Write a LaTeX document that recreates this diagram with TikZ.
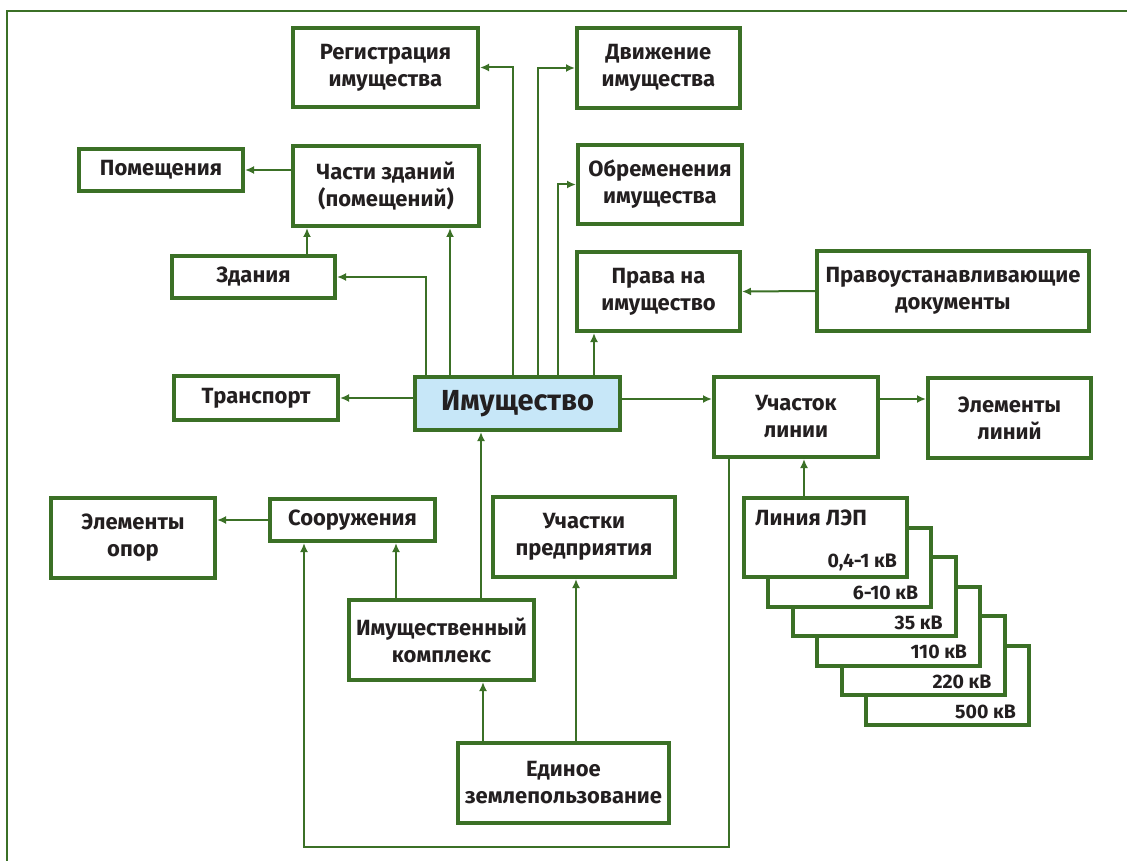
\documentclass[tikz,border=0pt]{standalone}
\usepackage{fontspec}
\setmainfont{Fira Sans}
\usetikzlibrary{arrows.meta,calc}
\definecolor{leaf}{HTML}{3B7026}
\definecolor{sky}{HTML}{C7E7F8}
\definecolor{ink}{HTML}{231F20}

\begin{document}
\begin{tikzpicture}[x=1pt, y=-1pt,
			item/.style={rectangle, draw=leaf, line width=4pt, fill=white, text=ink,
				inner sep=0pt, align=center, font=\fontsize{22}{27}\selectfont\bfseries},
			boxsize/.style 2 args={minimum width=#1pt, minimum height=#2pt},
			core/.style={item, fill=sky, font=\fontsize{29}{34}\selectfont\bfseries},
			lep/.style={item, anchor=north west, minimum width=163pt, minimum height=79pt},
			volt/.style={anchor=base east, text=ink, inner sep=0pt, font=\fontsize{19.5}{22}\selectfont\bfseries},
			link/.style={draw=leaf, line width=2pt},
			>={Latex[length=9pt,width=8pt]}
			]
			\useasboundingbox (0,0) rectangle (1127,861);
			\draw[link] (7,861) -- (7,11) -- (1127,11);
			
			\node[item, boxsize={185}{79}] (Reg) at (385.5,67.5) {Регистрация\\имущества};
			\node[item, boxsize={163}{80}] (Move) at (658.5,68) {Движение\\имущества};
			\node[item, boxsize={164}{42}] (Rooms) at (161,170) {Помещения};
			\node[item, boxsize={186}{80}] (Parts) at (386,186) {Части зданий\\(помещений)};
			\node[item, boxsize={164}{79}] (Burden) at (660,184.5) {Обременения\\имущества};
			\node[item, boxsize={163}{42}] (Bldg) at (253.5,277) {Здания};
			\node[item, boxsize={163}{79}] (Rights) at (658.5,291.5) {Права на\\имущество};
			\node[item, boxsize={272}{80}] (Docs) at (953,291) {Правоустанавливающие\\документы};
			\node[item, boxsize={164}{44}] (Transp) at (256,398) {Транспорт};
			\node[core, boxsize={205}{53}] (Prop) at (517.5,403.5) {Имущество};
			\node[item, boxsize={164}{80}] (Sect) at (796,417) {Участок\\линии};
			\node[item, boxsize={163}{80}] (LineEl) at (1009.5,418) {Элементы\\линий};
			\node[item, boxsize={164}{80}] (PoleEl) at (133,538) {Элементы\\опор};
			\node[item, boxsize={165}{42}] (Struct) at (352.5,520) {Сооружения};
			\node[item, boxsize={182}{80}] (Sites) at (584,537) {Участки\\предприятия};
			\node[item, boxsize={185}{80}] (Complex) at (441.5,640) {Имущественный\\комплекс};
			\node[item, boxsize={211}{80}] (Land) at (563.5,783) {Единое\\землепользование};
			
			\foreach \k/\v in {6/500,5/220,4/110,3/35,2/6-10}{
				\node[lep] (Lep\k) at ({742+24.4*(\k-1)},{496+29.6*(\k-1)}) {};
				\node[volt] at ([xshift=-15pt,yshift=9pt]Lep\k.south east) {\v~кВ};
			}
			\node[lep] (Lep1) at (742,496) {};
			\node[volt, anchor=base west, font=\fontsize{22}{27}\selectfont\bfseries]
			(LepName) at ([xshift=13pt,yshift=-29pt]Lep1.north west) {Линия ЛЭП};
			\node[volt] (LepLow) at ([xshift=-12pt,yshift=12pt]Lep1.south east) {0,4-1~кВ};
			
			\draw[link, ->] ([xshift=13pt]Prop.north west) |- (Bldg.east);
			\draw[link, ->] ([xshift=37pt]Prop.north west) -- ([xshift=37pt]Prop.north west |- Parts.south);
			\draw[link, ->] ([xshift=100pt]Prop.north west) |- (Reg.east);
			\draw[link, ->] ([xshift=125pt]Prop.north west) |- (Move.west);
			\draw[link, ->] ([xshift=145pt]Prop.north west) |- (Burden.west);
			\draw[link, ->] ([xshift=181pt]Prop.north west) -- ([xshift=181pt]Prop.north west |- Rights.south);
			\draw[link, ->] (Docs.west) -- (Rights.east);
			\draw[link, ->] (Parts.west |- Rooms.east) -- (Rooms.east);
			\draw[link, ->] ([xshift=16pt]Parts.south west |- Bldg.north) -- ([xshift=16pt]Parts.south west);
			\draw[link, ->] (Prop.west |- Transp.east) -- (Transp.east);
			\draw[link, ->] ([yshift=4.5pt]Prop.east) -- ([yshift=4.5pt]Prop.east -| Sect.west);
			\draw[link, ->] ([yshift=18pt]Sect.east) -- ([yshift=18pt]Sect.east -| LineEl.west);
			\draw[link, ->] ([xshift=62pt]Lep1.north west) -- ([xshift=62pt]Lep1.north west |- Sect.south);
			\draw[link, ->] (Struct.west) -- (Struct.west -| PoleEl.east);
			\draw[link, ->] ([xshift=49pt]Complex.north west) -- ([xshift=49pt]Complex.north west |- Struct.south);
			\draw[link, ->] ([xshift=134pt]Complex.north west) -- ([xshift=134pt]Complex.north west |- Prop.south);
			\draw[link, ->] ([xshift=27pt]Land.north west) -- ([xshift=27pt]Land.north west |- Complex.south);
			\draw[link, ->] ([xshift=120pt]Land.north west) -- ([xshift=120pt]Land.north west |- Sites.south);
			\coordinate (Loop) at (304,847);
			\draw[link, ->] ([xshift=17pt]Sect.south west) |- (Loop) -- ([xshift=36pt]Struct.south west);
		\end{tikzpicture}
\end{document}
